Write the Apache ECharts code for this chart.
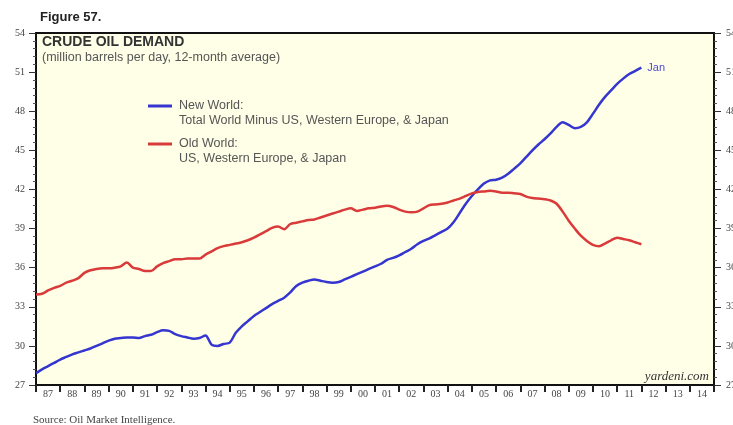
<!DOCTYPE html>
<html>
<head>
<meta charset="utf-8">
<script src="https://cdn.jsdelivr.net/npm/echarts@6/dist/echarts.min.js"></script>
<style>
html,body{margin:0;padding:0;background:#fff;}
#chart{width:733px;height:425px;}
</style>
</head>
<body>
<div id="chart"></div>
<script>
// Quarterly time points, 1987.00 .. 2012.00
const quarters = [];
for (let i = 0; i <= 100; i++) quarters.push(1987 + i * 0.25);

// New World: Total World Minus US, Western Europe, & Japan (mb/d)
const newWorld = [
  27.9, 28.2, 28.45, 28.7, 28.95, 29.15, 29.35, 29.5, 29.65, 29.8,
  30.0, 30.2, 30.4, 30.55, 30.6, 30.65, 30.65, 30.6, 30.75, 30.85,
  31.05, 31.2, 31.15, 30.9, 30.75, 30.65, 30.55, 30.6, 30.8, 30.1,
  30.0, 30.15, 30.25, 31.0, 31.5, 31.9, 32.3, 32.6, 32.9, 33.2,
  33.45, 33.7, 34.1, 34.6, 34.85, 35.0, 35.1, 35.0, 34.9, 34.85,
  34.9, 35.1, 35.3, 35.5, 35.7, 35.9, 36.1, 36.3, 36.6, 36.75,
  36.95, 37.2, 37.45, 37.8, 38.05, 38.25, 38.5, 38.75, 39.0, 39.5,
  40.2, 40.9, 41.5, 42.0, 42.45, 42.7, 42.75, 42.9, 43.2, 43.6,
  44.0, 44.5, 45.0, 45.45, 45.85, 46.3, 46.8, 47.15, 46.95, 46.7,
  46.8, 47.15, 47.8, 48.5, 49.1, 49.6, 50.1, 50.5, 50.85, 51.1,
  51.35
];

// Old World: US, Western Europe, & Japan (mb/d)
const oldWorld = [
  33.95, 34.0, 34.25, 34.45, 34.6, 34.85, 35.0, 35.2, 35.6, 35.8,
  35.9, 35.95, 35.95, 36.0, 36.1, 36.4, 36.0, 35.9, 35.75, 35.75,
  36.1, 36.35, 36.5, 36.65, 36.65, 36.7, 36.7, 36.7, 37.0, 37.25,
  37.5, 37.65, 37.75, 37.85, 37.95, 38.1, 38.3, 38.55, 38.8, 39.05,
  39.15, 38.95, 39.35, 39.45, 39.55, 39.65, 39.7, 39.85, 40.0, 40.15,
  40.3, 40.45, 40.55, 40.35, 40.45, 40.55, 40.6, 40.7, 40.75, 40.65,
  40.45, 40.3, 40.25, 40.3, 40.55, 40.8, 40.85, 40.9, 41.0, 41.15,
  41.3, 41.5, 41.7, 41.8, 41.85, 41.9, 41.85, 41.75, 41.75, 41.7,
  41.65, 41.45, 41.35, 41.3, 41.25, 41.15, 40.9, 40.3, 39.6, 39.0,
  38.45, 38.05, 37.75, 37.65, 37.85, 38.1, 38.3, 38.2, 38.1, 37.95,
  37.8
];

const yearLabels = ['87','88','89','90','91','92','93','94','95','96','97','98','99','00',
  '01','02','03','04','05','06','07','08','09','10','11','12','13','14'];

const yTicks = { min: 27, max: 54, interval: 3 };

const chart = echarts.init(document.getElementById('chart'));
const axisFont = { fontFamily: 'Liberation Serif', fontSize: 10, color: '#444' };
const textGray = '#555';

chart.setOption({
  animation: false,
  backgroundColor: '#ffffff',
  grid: {
    left: 36, right: 19, top: 33, bottom: 40,
    containLabel: false, outerBoundsMode: 'none',
    show: true, backgroundColor: '#FFFFE8',
    borderColor: '#111', borderWidth: 2
  },
  xAxis: [
    {
      type: 'value', min: 1987, max: 2015, interval: 1,
      show: false
    },
    {
      type: 'category', data: yearLabels, position: 'bottom',
      boundaryGap: true,
      axisLine: { show: true, lineStyle: { color: '#111', width: 2 } },
      axisTick: { show: true, length: 7, inside: false, lineStyle: { color: '#222', width: 2 } },
      axisLabel: Object.assign({ margin: 4 }, axisFont),
      splitLine: { show: false }
    }
  ],
  yAxis: [
    {
      type: 'value', min: yTicks.min, max: yTicks.max, interval: yTicks.interval,
      position: 'left',
      axisLine: { show: true, lineStyle: { color: '#111', width: 2 } },
      axisTick: { show: true, length: 7, lineStyle: { color: '#333', width: 1 } },
      minorTick: { show: true, splitNumber: 5, length: 3, lineStyle: { color: '#555' } },
      axisLabel: Object.assign({ margin: 11 }, axisFont),
      splitLine: { show: false }
    },
    {
      type: 'value', min: yTicks.min, max: yTicks.max, interval: yTicks.interval,
      position: 'right',
      axisLine: { show: true, lineStyle: { color: '#111', width: 2 } },
      axisTick: { show: true, length: 7, lineStyle: { color: '#333', width: 1 } },
      minorTick: { show: true, splitNumber: 5, length: 3, lineStyle: { color: '#555' } },
      axisLabel: Object.assign({ margin: 12 }, axisFont),
      splitLine: { show: false }
    }
  ],
  series: [
    {
      name: 'New World', type: 'line', xAxisIndex: 0, yAxisIndex: 0,
      data: quarters.map((q, i) => [q, newWorld[i]]),
      showSymbol: false, smooth: 0.3,
      lineStyle: { color: '#3535CF', width: 2.5 },
      endLabel: { show: true, formatter: 'Jan', color: '#4a4ad0', fontFamily: 'Liberation Sans', fontSize: 11, distance: 6 }
    },
    {
      name: 'Old World', type: 'line', xAxisIndex: 0, yAxisIndex: 0,
      data: quarters.map((q, i) => [q, oldWorld[i]]),
      showSymbol: false, smooth: 0.3,
      lineStyle: { color: '#D93A3A', width: 2.5 }
    }
  ],
  graphic: [
    { type: 'text', left: 40, top: 11, style: { text: 'Figure 57.', font: 'bold 13px "Liberation Sans"', fill: '#222' } },
    { type: 'text', left: 42, top: 35, style: { text: 'CRUDE OIL DEMAND', font: 'bold 14px "Liberation Sans"', fill: '#333' } },
    { type: 'text', left: 42, top: 51, style: { text: '(million barrels per day, 12-month average)', font: '12.5px "Liberation Sans"', fill: textGray } },
    { type: 'line', shape: { x1: 148, y1: 106, x2: 172, y2: 106 }, style: { stroke: '#3535CF', lineWidth: 3 } },
    { type: 'text', left: 179, top: 98, style: { text: 'New World:\nTotal World Minus US, Western Europe, & Japan', font: '12.5px "Liberation Sans"', fill: textGray, lineHeight: 15 } },
    { type: 'line', shape: { x1: 148, y1: 144, x2: 172, y2: 144 }, style: { stroke: '#D93A3A', lineWidth: 3 } },
    { type: 'text', left: 179, top: 136, style: { text: 'Old World:\nUS, Western Europe, & Japan', font: '12.5px "Liberation Sans"', fill: textGray, lineHeight: 15 } },
    { type: 'text', right: 24, top: 370, style: { text: 'yardeni.com', font: 'italic 13px "Liberation Serif"', fill: '#333' } },
    { type: 'text', left: 33, top: 415, style: { text: 'Source: Oil Market Intelligence.', font: '11px "Liberation Serif"', fill: '#444' } }
  ]
});
</script>
</body>
</html>
